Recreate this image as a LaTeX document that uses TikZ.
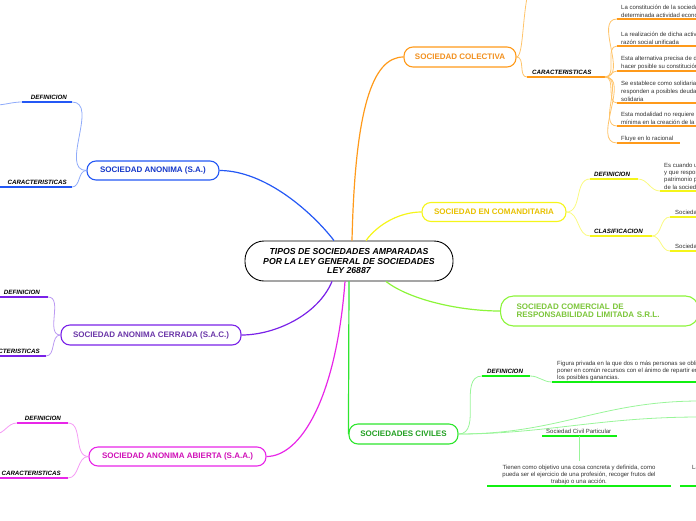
\documentclass[tikz,border=0pt]{standalone}
\usepackage{fontspec}
\setmainfont{Liberation Sans}
\definecolor{oC}{HTML}{FF9A1A}
\definecolor{oT}{HTML}{F2901E}
\definecolor{oL}{HTML}{FFC46B}
\definecolor{yC}{HTML}{F5F51A}
\definecolor{yT}{HTML}{E8C100}
\definecolor{yL}{HTML}{FAFA80}
\definecolor{lgC}{HTML}{8CF53A}
\definecolor{lgT}{HTML}{7CC63A}
\definecolor{gC}{HTML}{2EE62E}
\definecolor{gU}{HTML}{11F011}
\definecolor{gT}{HTML}{22A022}
\definecolor{gL}{HTML}{99F599}
\definecolor{bC}{HTML}{2458F5}
\definecolor{bT}{HTML}{1537C8}
\definecolor{bL}{HTML}{8FABFA}
\definecolor{pC}{HTML}{7A22E8}
\definecolor{pT}{HTML}{6A35A8}
\definecolor{pL}{HTML}{BB99F2}
\definecolor{mC}{HTML}{E826E8}
\definecolor{mT}{HTML}{D010B8}
\definecolor{mL}{HTML}{F59AF5}
\definecolor{txt}{HTML}{333333}
\newcommand\tpfont{\bfseries\fontsize{8}{9.5}\selectfont}
\newcommand\lbfont{\bfseries\itshape\fontsize{6.2}{7}\selectfont}
\newcommand\bdfont{\fontsize{6}{7.5}\selectfont}
\begin{document}
\begin{tikzpicture}[x=1pt,y=-1pt,
  topic/.style={draw, line width=1.1pt, rounded corners=9pt, fill=white, inner sep=0pt, font=\tpfont, align=center},
  lab/.style={font=\lbfont, inner sep=0pt, text=black},
  body/.style={font=\bdfont, inner sep=0pt, text=txt, align=left},
  ul/.style={line width=2pt},
  thin/.style={line width=0.8pt},
  main/.style={line width=1.2pt}]
\useasboundingbox (0,0) rectangle (696,520);
\clip (0,0) rectangle (696,520);

% ---------- topics ----------
\node[topic, draw=black, line width=0.9pt, minimum width=208pt, minimum height=40pt, rounded corners=19pt,
      font=\bfseries\itshape\fontsize{8.7}{9.4}\selectfont] (c) at (349,261)
  {TIPOS DE SOCIEDADES AMPARADAS\\POR LA LEY GENERAL DE SOCIEDADES\\LEY 26887};
\node[topic, draw=oC, text=oT, minimum width=112pt, minimum height=20pt] (col) at (460,57) {SOCIEDAD COLECTIVA};
\node[topic, draw=yC, text=yT, minimum width=144pt, minimum height=19pt] (com) at (494,212) {SOCIEDAD EN COMANDITARIA};
\node[topic, draw=lgC, text=lgT, anchor=west, minimum width=198pt, minimum height=30pt, rounded corners=13pt,
      inner xsep=16pt, text width=166pt, align=left, font=\bfseries\fontsize{8}{8.2}\selectfont] (srl) at (500,311)
  {SOCIEDAD COMERCIAL DE\\RESPONSABILIDAD LIMITADA S.R.L.};
\node[topic, draw=gC, text=gT, minimum width=109pt, minimum height=20pt] (civ) at (403.5,434) {SOCIEDADES CIVILES};
\node[topic, draw=bC, text=bT, minimum width=132pt, minimum height=19pt] (sa) at (153,170.5) {SOCIEDAD ANONIMA (S.A.)};
\node[topic, draw=pC, text=pT, minimum width=180pt, minimum height=20pt] (sac) at (151,335) {SOCIEDAD ANONIMA CERRADA (S.A.C.)};
\node[topic, draw=mC, text=mT, minimum width=177pt, minimum height=19pt] (saa) at (177.5,456.5) {SOCIEDAD ANONIMA ABIERTA (S.A.A.)};

% ---------- main connectors ----------
\begin{scope}[on background layer/.style={}]
\end{scope}
\draw[main, oC] ([xshift=3pt]c.north) .. controls (355,110) and (372,57) .. (col.west);
\draw[main, yC] ([xshift=17pt]c.north) .. controls (378,224) and (400,212) .. (com.west);
\draw[main, bC] ([xshift=-15pt]c.north) .. controls (312,212) and (265,170.5) .. (sa.east);
\draw[main, pC] ([xshift=-17pt]c.south) .. controls (318,315) and (275,335) .. (sac.east);
\draw[main, mC] ([xshift=-4pt]c.south) .. controls (336,400) and (300,456.5) .. (saa.east);
\draw[main, gC] (c.south) -- (civ.west);
\draw[main, lgC] ([xshift=37pt]c.south) .. controls (410,300) and (460,311) .. (srl.west);

% ---------- SOCIEDAD COLECTIVA ----------
\coordinate (oCarL) at (527,77); \coordinate (oCarR) at (605,77);
\coordinate (oOff) at (540,-30);
\draw[thin, oL] (col.east) to[out=0,in=180] (oCarL);
\draw[thin, oL] (col.east) .. controls (526,57) and (520,-20) .. (oOff);
\draw[ul, oC] (oCarL) -- (oCarR);
\node[lab, anchor=base west] (oCar) at (532,74.5) {CARACTERISTICAS};
\foreach \n/\u/\e in {1/19/710, 2/46/710, 3/71/710, 4/103/710, 5/126/710, 6/143/680}{
  \coordinate (oI\n L) at (617,\u); \coordinate (oI\n R) at (\e,\u);
  \draw[thin, oL] (oCarR) to[out=0,in=180] (oI\n L);
  \draw[ul, oC] (oI\n L) -- (oI\n R);
}
\begin{scope}[body/.append style={font=\fontsize{6}{7.8}\selectfont, anchor=south west}]
\node[body] (oT1) at (621,17.5) {La constitución de la sociedad tiene por objeto una\\determinada actividad económica};
\node[body] (oT2) at (621,44.5) {La realización de dicha actividad bajo una\\razón social unificada};
\node[body] (oT3) at (621,69.5) {Esta alternativa precisa de dos o más socios para\\hacer posible su constitución};
\node[body] (oT4) at (621,101.5) {Se establece como solidaria, ya que los socios\\responden a posibles deudas de forma\\solidaria};
\node[body] (oT5) at (621,124.5) {Esta modalidad no requiere de una aportación\\mínima en la creación de la sociedad};
\node[body, anchor=base west] (oT6) at (621,140) {Fluye en lo racional};
\end{scope}

% ---------- SOCIEDAD EN COMANDITARIA ----------
\coordinate (yDL) at (590,179); \coordinate (yDR) at (638,179);
\coordinate (yCL) at (590,236); \coordinate (yCR) at (652,236);
\draw[thin, yL] (com.east) to[out=0,in=180] (yDL);
\draw[thin, yL] (com.east) to[out=0,in=180] (yCL);
\draw[ul, yC] (yDL) -- (yDR);
\draw[ul, yC] (yCL) -- (yCR);
\node[lab, anchor=base west] (yD) at (594,176.5) {DEFINICION};
\node[lab, anchor=base west] (yC) at (594,233.5) {CLASIFICACION};
\coordinate (yTL) at (660,191); \coordinate (yTR) at (710,191);
\draw[thin, yL] (yDR) to[out=0,in=180] (yTL);
\draw[ul, yC] (yTL) -- (yTR);
\node[body, anchor=south west, font=\fontsize{6}{7.3}\selectfont] (yT) at (664,189.5)
  {Es cuando uno o más socios\\y que responden con su\\patrimonio personal\\de la sociedad};
\coordinate (yS1L) at (670,217); \coordinate (yS1R) at (710,217);
\coordinate (yS2L) at (670,251); \coordinate (yS2R) at (710,251);
\draw[thin, yL] (yCR) to[out=0,in=180] (yS1L);
\draw[thin, yL] (yCR) to[out=0,in=180] (yS2L);
\draw[ul, yC] (yS1L) -- (yS1R);
\draw[ul, yC] (yS2L) -- (yS2R);
\node[body, anchor=base west] (yS1) at (675,214.5) {Sociedad en comandita simple};
\node[body, anchor=base west] (yS2) at (675,248.5) {Sociedad en comandita por acciones};

% ---------- SOCIEDADES CIVILES ----------
\coordinate (gDL) at (482,376); \coordinate (gDR) at (530,376);
\draw[thin, gL] (civ.east) to[out=0,in=180] (gDL);
\draw[ul, gU] (gDL) -- (gDR);
\node[lab, anchor=base west] (gD) at (487,373.5) {DEFINICION};
\coordinate (gTL) at (552,382); \coordinate (gTR) at (710,382);
\draw[thin, gL] (gDR) to[out=0,in=180] (gTL);
\draw[ul, gU] (gTL) -- (gTR);
\node[body, anchor=south west, font=\fontsize{6}{7}\selectfont] (gT) at (557,380.5)
  {Figura privada en la que dos o más personas se obligan a\\poner en común recursos con el ánimo de repartir entre sí\\los posibles ganancias.};
\coordinate (gO1) at (700,401); \coordinate (gO2) at (700,417);
\draw[thin, gL] (civ.east) .. controls (560,434) and (600,401) .. (gO1);
\draw[thin, gL] (civ.east) .. controls (545,434) and (600,417) .. (gO2);
\coordinate (gPL) at (542,436); \coordinate (gPR) at (617,436); \coordinate (gPM) at (579,436);
\draw[ul, gU] (gPL) -- (gPR);
\node[body, anchor=base west] (gP) at (546,433.5) {Sociedad Civil Particular};
\coordinate (gQL) at (487,486); \coordinate (gQR) at (671,486); \coordinate (gQT) at (579,461);
\draw[thin, gL] (gPM) -- (gQT);
\draw[ul, gU] (gQL) -- (gQR);
\node[body, anchor=south, align=center, font=\fontsize{6}{7}\selectfont] (gQ) at (579,484.5)
  {Tienen como objetivo una cosa concreta y definida, como\\pueda ser el ejercicio de una profesión, recoger frutos del\\trabajo o una acción.};
\coordinate (gRL) at (680,486); \coordinate (gRR) at (710,486);
\draw[ul, gU] (gRL) -- (gRR);
\node[body, anchor=base west] (gR) at (692,469) {La sociedad};

% ---------- SOCIEDAD ANONIMA ----------
\coordinate (bDL) at (22,102); \coordinate (bDR) at (72,102);
\coordinate (bCL) at (-5,187); \coordinate (bCR) at (72,187);
\coordinate (bOff) at (-5,105);
\draw[thin, bL] (sa.west) to[out=180,in=0] (bDR);
\draw[thin, bL] (sa.west) to[out=180,in=0] (bCR);
\draw[ul, bC] (bDL) -- (bDR);
\draw[ul, bC] (bCL) -- (bCR);
\draw[thin, bL] (bDL) to[out=180,in=0] (bOff);
\node[lab, anchor=base east] (bD) at (67,99.5) {DEFINICION};
\node[lab, anchor=base east] (bC) at (67,184.5) {CARACTERISTICAS};

% ---------- SOCIEDAD ANONIMA CERRADA ----------
\coordinate (pDL) at (-5,297); \coordinate (pDR) at (48,297);
\coordinate (pCL) at (-5,356); \coordinate (pCR) at (46,356);
\draw[thin, pL] (sac.west) to[out=180,in=0] (pDR);
\draw[thin, pL] (sac.west) to[out=180,in=0] (pCR);
\draw[ul, pC] (pDL) -- (pDR);
\draw[ul, pC] (pCL) -- (pCR);
\node[lab, anchor=base east] (pD) at (40,294.5) {DEFINICION};
\node[lab, anchor=base east] (pC) at (40,353.5) {CARACTERISTICAS};

% ---------- SOCIEDAD ANONIMA ABIERTA ----------
\coordinate (mDL) at (17,423); \coordinate (mDR) at (68,423);
\coordinate (mCL) at (-5,478); \coordinate (mCR) at (68,478);
\coordinate (mOff) at (-5,434);
\draw[thin, mL] (saa.west) to[out=180,in=0] (mDR);
\draw[thin, mL] (saa.west) to[out=180,in=0] (mCR);
\draw[ul, mC] (mDL) -- (mDR);
\draw[ul, mC] (mCL) -- (mCR);
\draw[thin, mL] (mDL) to[out=180,in=0] (mOff);
\node[lab, anchor=base east] (mD) at (61,420.5) {DEFINICION};
\node[lab, anchor=base east] (mC) at (61,475.5) {CARACTERISTICAS};
\end{tikzpicture}
\end{document}
